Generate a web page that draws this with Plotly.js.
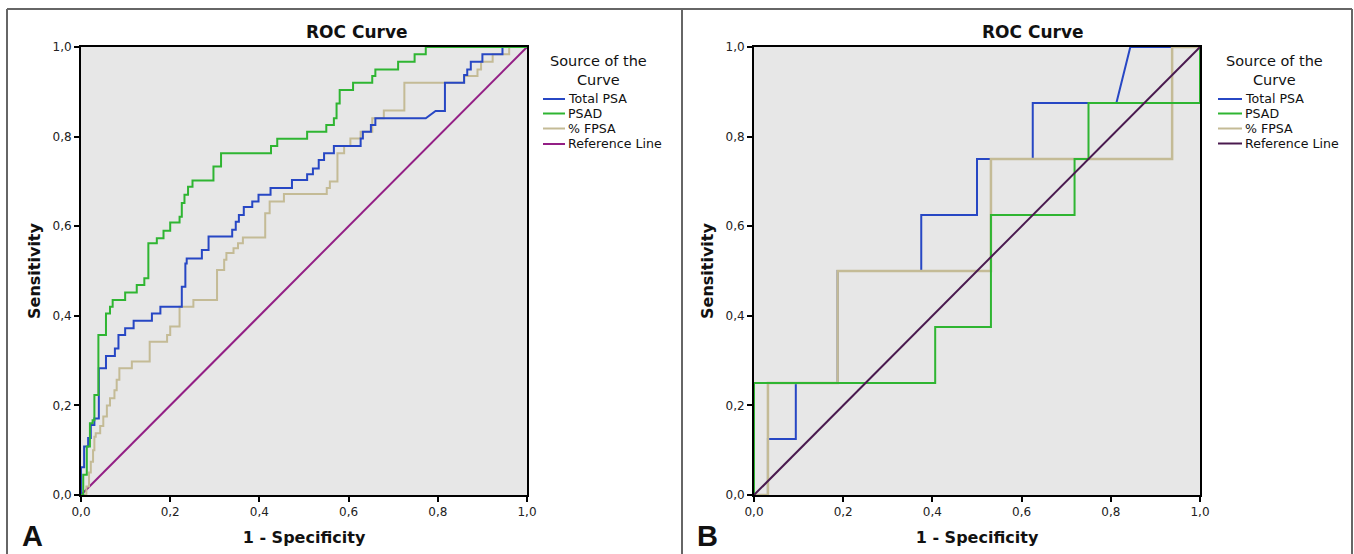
<!DOCTYPE html>
<html>
<head>
<meta charset="utf-8">
<script src="https://cdn.plot.ly/plotly-3.0.1.min.js"></script>
<style>
html,body{margin:0;padding:0;background:#fff;}
#chart{width:1354px;height:554px;}
</style>
</head>
<body>
<div id="chart"></div>
<script>
// ---------- DATA ----------
const seriesNames = ["Total PSA", "PSAD", "% FPSA", "Reference Line"];
const legendTitle = "Source of the<br>Curve";
const chartTitle = "ROC Curve";
const xTitle = "1 - Specificity";
const yTitle = "Sensitivity";
const tickVals = [0, 0.2, 0.4, 0.6, 0.8, 1.0];
const tickLabels = ["0,0", "0,2", "0,4", "0,6", "0,8", "1,0"];
const panelLabels = ["A", "B"];

// Panel A (1 - specificity, sensitivity vertices)
const totalPsaA_x = [0,0,0.007,0.007,0.016,0.016,0.022,0.022,0.03,0.03,0.04,0.04,0.056,0.056,0.076,0.076,0.084,0.084,0.099,0.099,0.118,0.118,0.159,0.159,0.178,0.178,0.226,0.226,0.234,0.234,0.237,0.237,0.271,0.271,0.286,0.286,0.339,0.339,0.347,0.347,0.354,0.354,0.365,0.365,0.384,0.384,0.398,0.398,0.425,0.425,0.473,0.473,0.507,0.507,0.52,0.52,0.533,0.533,0.545,0.545,0.567,0.567,0.627,0.627,0.632,0.632,0.65,0.65,0.66,0.66,0.773,0.795,0.816,0.816,0.859,0.859,0.866,0.866,0.874,0.874,0.9,0.9,0.945,0.945,1];
const totalPsaA_y = [0,0.062,0.062,0.108,0.108,0.127,0.127,0.156,0.156,0.171,0.171,0.283,0.283,0.31,0.31,0.327,0.327,0.357,0.357,0.372,0.372,0.389,0.389,0.405,0.405,0.42,0.42,0.465,0.465,0.517,0.517,0.528,0.528,0.547,0.547,0.577,0.577,0.592,0.592,0.61,0.61,0.625,0.625,0.643,0.643,0.655,0.655,0.67,0.67,0.685,0.685,0.703,0.703,0.716,0.716,0.729,0.729,0.748,0.748,0.763,0.763,0.779,0.779,0.796,0.796,0.811,0.811,0.826,0.826,0.841,0.841,0.857,0.857,0.92,0.92,0.9375,0.9375,0.95,0.95,0.967,0.967,0.984,0.984,1,1];

const psadA_x = [0,0.005,0.005,0.013,0.013,0.02,0.02,0.026,0.026,0.03,0.03,0.039,0.039,0.056,0.056,0.065,0.065,0.071,0.071,0.099,0.099,0.125,0.125,0.142,0.142,0.151,0.151,0.17,0.17,0.185,0.185,0.2,0.2,0.221,0.221,0.226,0.226,0.232,0.232,0.24,0.24,0.25,0.25,0.297,0.297,0.314,0.314,0.426,0.426,0.44,0.44,0.507,0.507,0.55,0.55,0.567,0.567,0.573,0.573,0.58,0.58,0.61,0.61,0.653,0.653,0.66,0.66,0.711,0.711,0.748,0.748,0.773,0.773,1];
const psadA_y = [0,0,0.045,0.045,0.108,0.108,0.16,0.16,0.167,0.167,0.223,0.223,0.357,0.357,0.405,0.405,0.42,0.42,0.435,0.435,0.452,0.452,0.469,0.469,0.484,0.484,0.562,0.562,0.573,0.573,0.59,0.59,0.608,0.608,0.621,0.621,0.652,0.652,0.67,0.67,0.688,0.688,0.702,0.702,0.733,0.733,0.763,0.763,0.779,0.779,0.795,0.795,0.811,0.811,0.826,0.826,0.841,0.841,0.874,0.874,0.904,0.904,0.92,0.92,0.935,0.935,0.95,0.95,0.967,0.967,0.984,0.984,1,1];

const fpsaA_x = [0,0.012,0.012,0.018,0.018,0.022,0.022,0.027,0.027,0.03,0.03,0.033,0.033,0.043,0.043,0.05,0.05,0.058,0.058,0.065,0.065,0.075,0.075,0.08,0.08,0.086,0.086,0.114,0.114,0.154,0.154,0.193,0.193,0.2,0.2,0.221,0.221,0.252,0.252,0.305,0.305,0.321,0.321,0.326,0.326,0.342,0.342,0.352,0.352,0.363,0.363,0.413,0.413,0.423,0.423,0.455,0.455,0.551,0.551,0.558,0.558,0.575,0.575,0.59,0.59,0.604,0.604,0.627,0.627,0.653,0.653,0.679,0.679,0.725,0.725,0.859,0.859,0.889,0.889,0.897,0.897,0.923,0.923,0.96,0.96,1];
const fpsaA_y = [0,0,0.019,0.019,0.05,0.05,0.074,0.074,0.1,0.1,0.13,0.13,0.138,0.138,0.154,0.154,0.175,0.175,0.2,0.2,0.216,0.216,0.234,0.234,0.257,0.257,0.283,0.283,0.298,0.298,0.342,0.342,0.357,0.357,0.376,0.376,0.42,0.42,0.435,0.435,0.502,0.502,0.525,0.525,0.54,0.54,0.551,0.551,0.562,0.562,0.575,0.575,0.629,0.629,0.655,0.655,0.672,0.672,0.685,0.685,0.7,0.7,0.763,0.763,0.779,0.779,0.796,0.796,0.811,0.811,0.841,0.841,0.858,0.858,0.92,0.92,0.935,0.935,0.95,0.95,0.967,0.967,0.984,0.984,1,1];

// Panel B
const totalPsaB_x = [0,0.03125,0.03125,0.09375,0.09375,0.1875,0.1875,0.375,0.375,0.5,0.5,0.625,0.625,0.8125,0.84375,1];
const totalPsaB_y = [0,0,0.125,0.125,0.25,0.25,0.5,0.5,0.625,0.625,0.75,0.75,0.875,0.875,1,1];
const psadB_x = [0,0,0.40625,0.40625,0.53125,0.53125,0.71875,0.71875,0.75,0.75,1,1];
const psadB_y = [0,0.25,0.25,0.375,0.375,0.625,0.625,0.75,0.75,0.875,0.875,1];
const fpsaB_x = [0,0.03125,0.03125,0.1875,0.1875,0.53125,0.53125,0.9375,0.9375,1];
const fpsaB_y = [0,0,0.25,0.25,0.5,0.5,0.75,0.75,1,1];

const refX = [0, 1];
const refY = [0, 1];

// ---------- STYLE ----------
const W = 1354, H = 554;
const px = v => v / W;
const py = v => 1 - v / H;
const FONT = "DejaVu Sans, Open Sans, sans-serif";
const colBlue = "#2747c4";
const colGreen = "#2fb532";
const colTan = "#c4bb96";
const colRefA = "#931f85";
const colRefB = "#4a1a4f";
const colorsA = [colBlue, colGreen, colTan, colRefA];
const colorsB = [colBlue, colGreen, colTan, colRefB];

function tr(x, y, name, color, xa, ya, w) {
  return {x: x, y: y, name: name, type: "scatter", mode: "lines",
    line: {color: color, width: w || 2}, xaxis: xa, yaxis: ya,
    showlegend: false, hoverinfo: "x+y+name"};
}

const data = [
  tr(refX, refY, seriesNames[3], colRefA, "x", "y"),
  tr(fpsaA_x, fpsaA_y, seriesNames[2], colTan, "x", "y"),
  tr(totalPsaA_x, totalPsaA_y, seriesNames[0], colBlue, "x", "y"),
  tr(psadA_x, psadA_y, seriesNames[1], colGreen, "x", "y"),
  tr(totalPsaB_x, totalPsaB_y, seriesNames[0], colBlue, "x2", "y2"),
  tr(fpsaB_x, fpsaB_y, seriesNames[2], colTan, "x2", "y2", 2.5),
  tr(psadB_x, psadB_y, seriesNames[1], colGreen, "x2", "y2"),
  tr(refX, refY, seriesNames[3], colRefB, "x2", "y2")
];

function xax(dom, anchor) {
  return {domain: dom, anchor: anchor, range: [0, 1], tickvals: tickVals, ticktext: tickLabels,
    ticks: "outside", ticklen: 5, tickwidth: 1.5, tickcolor: "#000",
    showline: true, linecolor: "#000", linewidth: 2, mirror: true,
    showgrid: false, zeroline: false, fixedrange: true,
    tickfont: {family: FONT, size: 12, color: "#222"},
    title: {text: "<b>" + xTitle + "</b>", font: {family: FONT, size: 16, color: "#111"}, standoff: 13}};
}
function yax(anchor) {
  return {domain: [py(495), py(47)], anchor: anchor, range: [0, 1], tickvals: tickVals, ticktext: tickLabels,
    ticks: "outside", ticklen: 5, tickwidth: 1.5, tickcolor: "#000",
    showline: true, linecolor: "#000", linewidth: 2, mirror: true,
    showgrid: false, zeroline: false, fixedrange: true,
    tickfont: {family: FONT, size: 12, color: "#222"},
    title: {text: "<b>" + yTitle + "</b>", font: {family: FONT, size: 16, color: "#111"}, standoff: 8}};
}

const annotations = [];
const shapes = [];

// outer frame and divider
shapes.push({type: "line", xref: "paper", yref: "paper", x0: px(7), x1: px(7), y0: py(9), y1: py(560), line: {color: "#666", width: 2}});
shapes.push({type: "line", xref: "paper", yref: "paper", x0: px(7), x1: px(1352), y0: py(9), y1: py(9), line: {color: "#666", width: 2}});
shapes.push({type: "line", xref: "paper", yref: "paper", x0: px(682), x1: px(682), y0: py(9), y1: py(560), line: {color: "#666", width: 2}});
shapes.push({type: "line", xref: "paper", yref: "paper", x0: px(1352), x1: px(1352), y0: py(9), y1: py(560), line: {color: "#666", width: 2}});

// titles & panel labels
[[357, panelLabels[0], 32], [1033, panelLabels[1], 707]].forEach(function (p) {
  annotations.push({xref: "paper", yref: "paper", x: px(p[0]), y: py(32), text: "<b>" + chartTitle + "</b>",
    showarrow: false, xanchor: "center", yanchor: "middle", font: {family: FONT, size: 17, color: "#111"}});
  annotations.push({xref: "paper", yref: "paper", x: px(p[2]), y: py(553), text: "<b>" + p[1] + "</b>",
    showarrow: false, xanchor: "center", yanchor: "bottom", borderpad: 0,
    font: {family: "Liberation Sans, Arial, sans-serif", size: 29, color: "#111"}});
});

// legends
function legend(titleCx, swX0, swX1, txtX, ys, cols) {
  annotations.push({xref: "paper", yref: "paper", x: px(titleCx), y: py(70.5), text: legendTitle,
    showarrow: false, xanchor: "center", yanchor: "middle", align: "center",
    font: {family: FONT, size: 14.5, color: "#111"}});
  for (let i = 0; i < seriesNames.length; i++) {
    shapes.push({type: "line", xref: "paper", yref: "paper", x0: px(swX0), x1: px(swX1), y0: py(ys[i]), y1: py(ys[i]),
      line: {color: cols[i], width: 2}});
    annotations.push({xref: "paper", yref: "paper", x: px(txtX), y: py(ys[i]), text: seriesNames[i],
      showarrow: false, xanchor: "left", yanchor: "middle", font: {family: FONT, size: 12.6, color: "#111"}});
  }
}
legend(598, 543, 565, 566, [99, 113.5, 128.5, 144], colorsA);
legend(1274, 1218, 1242, 1243, [99, 113.5, 128.5, 143.5], colorsB);

const layout = {
  width: W, height: H,
  margin: {l: 0, r: 0, t: 0, b: 0},
  paper_bgcolor: "#ffffff",
  plot_bgcolor: "#e7e7e7",
  showlegend: false,
  xaxis: xax([px(81), px(527)], "y"),
  yaxis: yax("x"),
  xaxis2: xax([px(754), px(1200)], "y2"),
  yaxis2: yax("x2"),
  annotations: annotations,
  shapes: shapes
};

Plotly.newPlot("chart", data, layout, {displayModeBar: false});
</script>
</body>
</html>
